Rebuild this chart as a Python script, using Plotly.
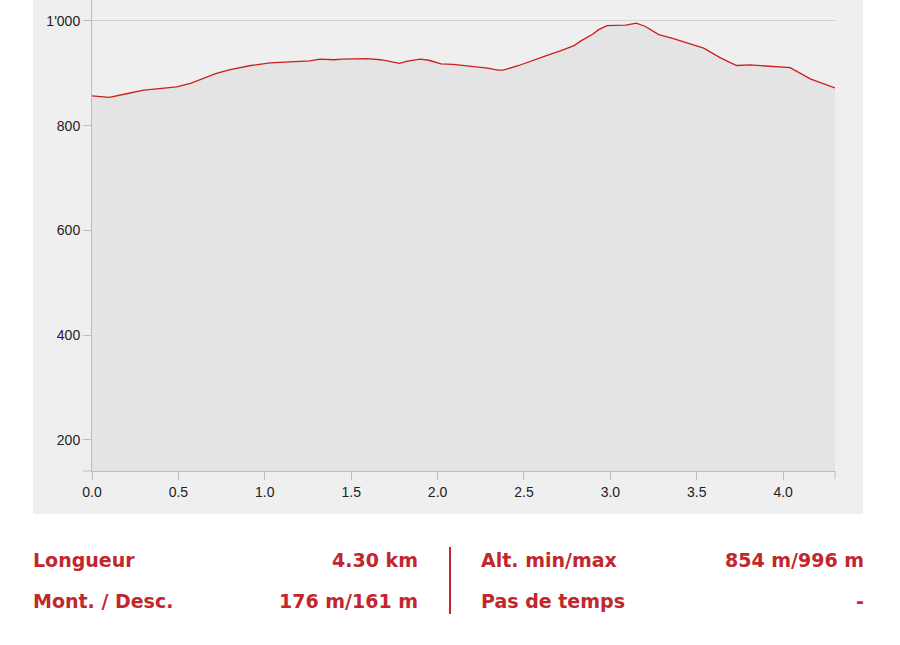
import plotly.graph_objects as go

# Elevation profile (distance in km, altitude in m)
distance_km = [0.0, 0.10, 0.20, 0.30, 0.39, 0.49, 0.57, 0.64, 0.72, 0.80, 0.92, 1.03, 1.19,
               1.26, 1.32, 1.40, 1.45, 1.59, 1.67, 1.78, 1.82, 1.90, 1.95, 2.02, 2.09,
               2.21, 2.29, 2.35, 2.38, 2.47, 2.55, 2.63, 2.71, 2.79, 2.83, 2.90, 2.93,
               2.98, 3.09, 3.15, 3.20, 3.28, 3.36, 3.46, 3.54, 3.64, 3.73, 3.81, 3.93,
               4.04, 4.16, 4.29, 4.30]
altitude_m = [857, 854, 861, 868, 871, 874, 881, 890, 900, 907, 915, 920, 922,
              924, 927, 926, 927, 928, 926, 919, 923, 927, 925, 918, 917,
              913, 910, 906, 906, 915, 925, 934, 943, 953, 962, 975, 983,
              991, 992, 996, 990, 974, 967, 956, 948, 929, 915, 916, 914,
              911, 889, 873, 872]

x_ticks = [0.0, 0.5, 1.0, 1.5, 2.0, 2.5, 3.0, 3.5, 4.0]
y_ticks = [200, 400, 600, 800, 1000]
y_tick_labels = ["200", "400", "600", "800", "1'000"]

stats_left = [("Longueur", "4.30 km"), ("Mont. / Desc.", "176 m/161 m")]
stats_right = [("Alt. min/max", "854 m/996 m"), ("Pas de temps", "-")]

RED = "#c1272d"
PANEL = "#efefef"
W, H = 900, 645
L, R, T, B = 92, 65, 0, 174
PW, PH = W - L - R, H - T - B


def px(x):
    return (x - L) / PW


def py(y):
    return (H - B - y) / PH


fig = go.Figure()
fig.add_trace(go.Scatter(
    x=distance_km, y=altitude_m, mode="lines",
    line=dict(color="#c8201e", width=1.3),
    fill="tozeroy", fillcolor="#e4e4e4",
    hoverinfo="x+y", showlegend=False,
))

shapes = [
    dict(type="rect", xref="paper", yref="paper", x0=px(33), x1=px(863), y0=py(514), y1=1.05,
         fillcolor=PANEL, line=dict(width=0), layer="below"),
    dict(type="line", xref="paper", yref="paper", x0=px(83), x1=px(92), y0=0, y1=0,
         line=dict(color="#bdbdbd", width=1)),
    dict(type="line", xref="paper", yref="paper", x0=px(835), x1=px(835), y0=0, y1=py(479),
         line=dict(color="#bdbdbd", width=1)),
    dict(type="line", xref="paper", yref="paper", x0=px(450), x1=px(450), y0=py(547), y1=py(614),
         line=dict(color=RED, width=2)),
]

annotations = []
font = dict(family="DejaVu Sans, Verdana, sans-serif", size=19, color=RED)
for i, (lab, val) in enumerate(stats_left):
    yy = py(560 + i * 41)
    annotations.append(dict(xref="paper", yref="paper", x=px(31), y=yy, text="<b>%s</b>" % lab,
                            showarrow=False, xanchor="left", yanchor="middle", font=font))
    annotations.append(dict(xref="paper", yref="paper", x=px(420), y=yy, text="<b>%s</b>" % val,
                            showarrow=False, xanchor="right", yanchor="middle", font=font))
for i, (lab, val) in enumerate(stats_right):
    yy = py(560 + i * 41)
    annotations.append(dict(xref="paper", yref="paper", x=px(479), y=yy, text="<b>%s</b>" % lab,
                            showarrow=False, xanchor="left", yanchor="middle", font=font))
    annotations.append(dict(xref="paper", yref="paper", x=px(866), y=yy, text="<b>%s</b>" % val,
                            showarrow=False, xanchor="right", yanchor="middle", font=font))

tickfont = dict(family="Liberation Sans, Arial, sans-serif", size=14, color="#222222")
fig.update_layout(
    width=W, height=H,
    margin=dict(l=L, r=R, t=T, b=B, pad=0),
    paper_bgcolor="white", plot_bgcolor=PANEL,
    shapes=shapes, annotations=annotations,
    xaxis=dict(range=[0, 4.3], tickvals=x_ticks, tickformat=".1f", showgrid=False, zeroline=False,
               showline=True, linecolor="#bdbdbd", linewidth=1, ticks="outside", ticklen=8,
               tickcolor="#bdbdbd", tickfont=tickfont, fixedrange=True),
    yaxis=dict(range=[140.4, 1040.1], tickvals=y_ticks, ticktext=y_tick_labels, showgrid=True,
               gridcolor="#d2d2d2", zeroline=False, showline=True, linecolor="#bdbdbd",
               linewidth=1, ticks="outside", ticklen=8, tickcolor="#bdbdbd", tickfont=tickfont,
               fixedrange=True),
)

fig.write_html("out.html", config={"displayModeBar": False},
               post_script="document.body.style.margin='0';")
